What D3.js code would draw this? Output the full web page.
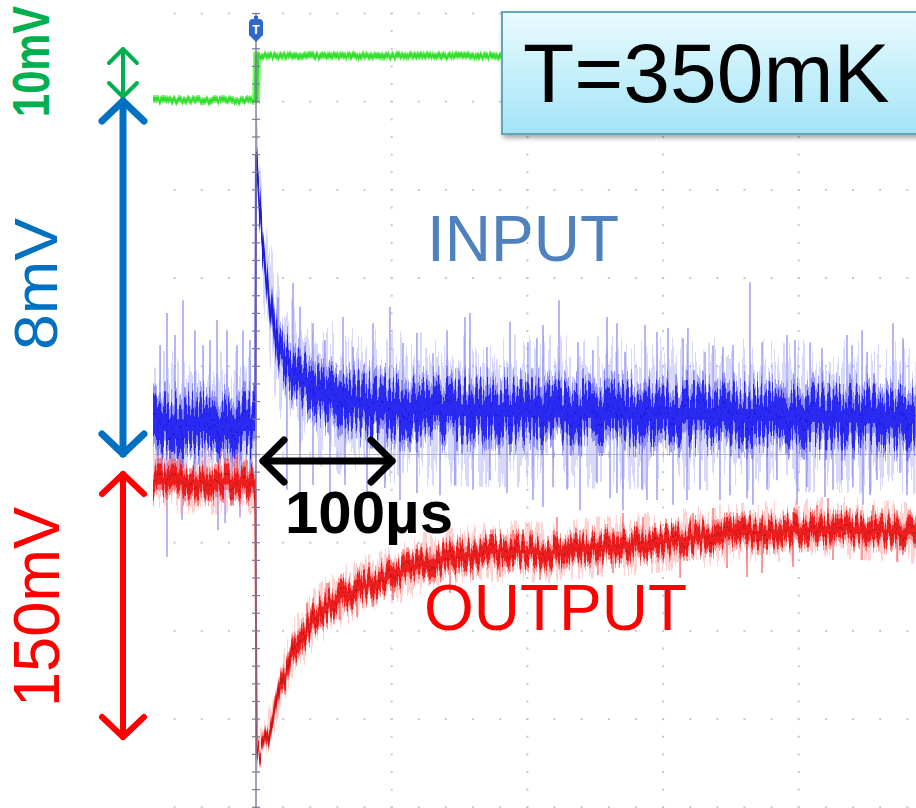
<!DOCTYPE html>
<html>
<head>
<meta charset="utf-8">
<script src="https://cdn.jsdelivr.net/npm/d3@7"></script>
<style>
  body { margin: 0; background: #fff; }
  text { font-family: "Liberation Sans", Arial, sans-serif; }
</style>
</head>
<body>
<div id="chart"></div>
<script>
// scope capture: input (2 mV/div), output (50 mV/div), trigger (20 mV/div), 100 us/div

// input channel (blue), mV, time in us
var inputT    = [-76, -0.5, 0, 1.5, 2.9, 5.2, 7.4, 10.3, 14, 17.7, 25, 32.4, 47, 62, 77, 91, 106, 143, 253, 364, 486];
var inputMean = [0, 0, 6.35, 5.56, 4.76, 3.85, 3.29, 2.72, 2.15, 1.70, 1.29, 1.02, 0.75, 0.61, 0.50, 0.43, 0.39, 0.34, 0.29, 0.23, 0.16];
var inputCore = [0.45, 0.45, 0.12, 0.18, 0.2, 0.22, 0.25, 0.28, 0.3, 0.33, 0.36, 0.4, 0.42, 0.44, 0.45, 0.45, 0.45, 0.45, 0.45, 0.45, 0.45];
var inputHaze = [1.0, 1.0, 0.3, 0.4, 0.5, 0.6, 0.7, 0.8, 0.85, 0.9, 0.95, 1.0, 1.0, 1.05, 1.05, 1.05, 1.05, 1.05, 1.05, 1.05, 1.05];

// visible spikes of the input trace
var inputUpT = [-70.7, -65.6, -59.7, -53.8, -45, -39, -33.9, -28.7, -21.4, -14, -9.6, -4.4,
                16.2, 27.3, 32.4, 42, 50.8, 64.1, 71.5, 86.2, 98.7, 108.3, 118.6, 130.4, 140.8, 154, 157.7, 170.2,
                187.2, 200.4, 207, 211.5, 223.3, 237.3, 248.3, 258.7, 266, 271.9, 286.7, 295.5, 303.6, 314.7, 318.3,
                330.9, 336.8, 344.1, 351.5, 364, 372.9, 391.3, 397.2, 408.3, 417.1, 435.5, 439.2, 446.6, 450.3, 469.4, 476.8];
var inputUpV = [1.81, 2.54, 2.04, 2.83, 2.15, 1.81, 1.93, 2.38, 2.15, 1.81, 2.15, 1.93,
                2.9, 3.22, 2.68, 2.31, 1.93, 2.45, 1.77, 2.31, 2.68, 1.86, 2.09, 1.63, 2.15, 2.45, 2.54, 1.77,
                2.34, 1.88, 1.97, 2.27, 2.83, 1.88, 1.70, 2.45, 2.31, 1.66, 2.27, 2.11, 2.20, 1.97, 2.20,
                1.66, 1.81, 1.77, 1.81, 3.24, 1.88, 2.04, 1.93, 1.88, 1.75, 2.04, 1.81, 2.15, 1.66, 2.31, 1.97];
var inputDnT = [-72.2, -65.6, -54.5, -45, -37.6, -28, -22.8, -17.7, -11.8, -4.4,
                22.8, 32.4, 42, 54.5, 65.6, 81.8, 95, 106.1, 118.6, 135.6, 146.6, 159.9, 172.4, 185,
                204.1, 211.5, 218.9, 229.2, 238.8, 251.3, 260.9, 266, 270.4, 284.4, 288.1, 295.5, 307.3, 317.6,
                327.2, 341.9, 349.3, 361.8, 366.2, 376.6, 383.9, 398.7, 406, 419.3, 425.2, 431.8, 439.9, 447.3,
                452.5, 457.6, 474.6, 479.7];
var inputDnV = [-1.47, -2.99, -2.15, -1.70, -1.59, -2.38, -2.22, -1.81, -2.09, -1.59,
                -1.47, -1.70, -1.36, -1.54, -1.36, -1.63, -1.43, -1.70, -1.54, -1.59, -1.36, -1.47, -1.25, -1.54,
                -1.70, -1.86, -1.41, -1.47, -1.93, -1.32, -1.66, -1.54, -1.93, -1.47, -1.70, -1.70, -1.81, -1.70,
                -1.47, -1.70, -1.59, -1.66, -1.81, -1.47, -1.25, -1.81, -1.41, -1.63, -1.47, -1.25, -1.41, -1.81,
                -1.59, -1.25, -1.09, -1.59];

// output channel (red), mV
var outputT    = [-76, -0.5, 0.5, 8.1, 12.5, 17.7, 22.8, 27.3, 34.6, 42, 52.3, 61.9, 74.4, 86.2, 98.7, 111.3,
                  123.1, 135.6, 148.1, 159.9, 172.4, 185, 216.7, 253.5, 290.3, 327.2, 364, 400.9, 425.2, 450.3, 486.4];
var outputMean = [0, 0, -155.9, -146.3, -131, -116.2, -106.6, -95.2, -87.9, -78.2, -70.9, -65.2, -61.2, -57.3, -53.9, -49.9,
                  -45.9, -44.2, -42.5, -41.4, -39.7, -39.1, -40.2, -36.8, -34.6, -31.2, -28.9, -27.2, -25.5, -27.2, -28.9];
var outputCore = [6, 6, 3, 3.5, 4, 4.5, 5, 5.5, 5.5, 5.5, 5.5, 5.5, 5.5, 5.5, 5.5, 5.5,
                  5.5, 5.5, 5.5, 5.5, 5.5, 5.5, 5.5, 5.5, 5.5, 5.5, 5.5, 5.5, 5.5, 5.5, 5.5];
var outputHaze = [11, 11, 5, 6, 7, 8, 9, 10, 10, 10, 10, 10, 10, 10, 10, 10,
                  10, 10, 10, 10, 10, 10, 10, 10, 10, 10, 10, 10, 10, 10, 10];

var outputUpT = [-70.7, -56, -36.1, -14, -6.6, 37.6, 52.3, 74.4, 91.4, 101, 118.6, 128.2, 150.3, 165.1, 189.4, 196.8,
                 221.8, 238.8, 270.4, 285.2, 322, 336.8, 354.5, 395.7, 413.4, 421.5, 437.7, 454.7, 472.4, 483.4];
var outputUpV = [8.5, 12.5, 8.5, 14.2, 12.5, -68.6, -57.3, -55.6, -53.9, -45.9, -40.2, -36.8, -31.2, -31.7, -27.2, -27.2,
                 -19.8, -27.2, -17.6, -19.8, -17.6, -14.7, -17.6, -17.0, -13.0, -9.1, -14.7, -13.0, -15.9, -19.8];
var outputDnT = [-65.6, -48.6, -24.3, -4.4, 25.1, 47.2, 61.9, 74.4, 86.2, 101, 143, 159.9, 179.8, 187.2, 209.3,
                 252, 263.1, 312.5, 347.1, 361.8, 372.9, 395.7, 425.2, 446.6, 472.4];
var outputDnV = [-10.2, -8.5, -10.2, -8.5, -96.9, -82.2, -78.2, -76.5, -70.9, -66.9, -62.9, -55.6, -53.9, -51.0, -55.6,
                 -52.7, -51.6, -54.4, -48.8, -53.9, -51.6, -48.2, -44.2, -44.2, -45.4];

// trigger channel (green), mV
var trigT = [-76, 0, 0.8, 486];
var trigV = [0, 0, 10, 10];

var W = 916, H = 808;
var plotLeft = 153;

var svg = d3.select("#chart").append("svg")
    .attr("width", W)
    .attr("height", H);

var defs = svg.append("defs");
defs.append("clipPath").attr("id", "plot-clip")
  .append("rect").attr("x", plotLeft).attr("y", 0).attr("width", W - plotLeft).attr("height", H);
var shadow = defs.append("filter").attr("id", "shadow")
    .attr("x", "-10%").attr("y", "-10%").attr("width", "130%").attr("height", "140%");
shadow.append("feDropShadow").attr("dx", 2).attr("dy", 3).attr("stdDeviation", 2.5)
    .attr("flood-color", "#000").attr("flood-opacity", 0.35);
var grad = defs.append("linearGradient").attr("id", "boxfill")
    .attr("x1", 0).attr("y1", 0).attr("x2", 0).attr("y2", 1);
grad.append("stop").attr("offset", "0%").attr("stop-color", "#eafbff");
grad.append("stop").attr("offset", "100%").attr("stop-color", "#a3e4f7");

// column-wise vertical jitter: gives the trace bands the ragged edge of a scope display
function jitterFilter(id, seed, fx, scale) {
    var f = defs.append("filter").attr("id", id)
        .attr("x", "-2%").attr("y", "-40%").attr("width", "104%").attr("height", "180%")
        .attr("color-interpolation-filters", "sRGB");
    f.append("feTurbulence").attr("type", "fractalNoise")
        .attr("baseFrequency", fx + " 0.003").attr("numOctaves", 2).attr("seed", seed).attr("result", "n");
    f.append("feColorMatrix").attr("in", "n").attr("type", "matrix")
        .attr("values", "0 0 0 0 0.5  0 3 0 0 -1  0 0 0 0 0  0 0 0 0 1").attr("result", "m");
    f.append("feDisplacementMap").attr("in", "SourceGraphic").attr("in2", "m")
        .attr("scale", scale).attr("xChannelSelector", "R").attr("yChannelSelector", "G");
}
jitterFilter("jb-haze", 4, 0.35, 60);
jitterFilter("jb-core", 9, 0.45, 28);
jitterFilter("jr-haze", 2, 0.35, 26);
jitterFilter("jr-core", 7, 0.45, 16);
jitterFilter("jg", 5, 0.5, 3);

// scales
var x = d3.scaleLinear().domain([-100, 500]).range([120.3, 934.5]);
var yDiv = d3.scaleLinear().domain([-5, 5]).range([895.5, 13.5]);
function chanScale(perDiv, offDiv) {
    return d3.scaleLinear()
        .domain([(-5 - offDiv) * perDiv, (5 - offDiv) * perDiv])
        .range([895.5, 13.5]);
}
var yIn = chanScale(2, 0.334);
var yOut = chanScale(50, -0.312);
var yTrig = chanScale(20, 4.02);

var plot = svg.append("g").attr("clip-path", "url(#plot-clip)");

// graticule dots
var grid = plot.append("g").attr("fill", "#c6c6d4");
var majorT = [100, 200, 300, 400];
var minorDiv = d3.range(-5, 5.01, 0.2);
var minorT = d3.range(-100, 500.1, 20);
majorT.forEach(function(t) {
    grid.selectAll(null).data(minorDiv).enter().append("rect")
        .attr("x", x(t) - 1).attr("y", function(d) { return yDiv(d) - 1; })
        .attr("width", 2).attr("height", 2);
});
d3.range(-5, 6).forEach(function(k) {
    if (k === 0) return;
    grid.selectAll(null).data(minorT).enter().append("rect")
        .attr("x", function(d) { return x(d) - 1; }).attr("y", yDiv(k) - 1)
        .attr("width", 2).attr("height", 2);
});

// horizontal center line
plot.append("line")
    .attr("x1", plotLeft).attr("x2", W).attr("y1", yDiv(0)).attr("y2", yDiv(0))
    .attr("stroke", "#b9b9c6").attr("stroke-width", 1);
plot.selectAll(".hcx").data(minorT).enter().append("line")
    .attr("x1", function(d) { return x(d); }).attr("x2", function(d) { return x(d); })
    .attr("y1", yDiv(0) - 3).attr("y2", yDiv(0) + 3)
    .attr("stroke", "#b9b9c6");

// trigger trace
var trigLine = d3.line().x(function(d, i) { return x(trigT[i]); }).y(function(d) { return yTrig(d); });
var tg = plot.append("g").attr("filter", "url(#jg)");
tg.append("path").datum(trigV)
    .attr("d", trigLine).attr("fill", "none")
    .attr("stroke", "#8af07a").attr("stroke-width", 8);
tg.append("path").datum(trigV)
    .attr("d", trigLine).attr("fill", "none")
    .attr("stroke", "#33dd33").attr("stroke-width", 4.5);

// noisy trace helper: haze band, spikes, dense core
function drawTrace(T, mean, core, haze, upT, upV, dnT, dnV, y, col, fHaze, fCore) {
    var g = plot.append("g");
    var meanAt = d3.scaleLinear().domain(T).range(mean);
    var band = function(w, k) {
        return d3.area()
            .x(function(d, i) { return x(T[i]); })
            .y0(function(d, i) { return y(d - w[i] * k); })
            .y1(function(d, i) { return y(d + w[i] * k); });
    };
    g.append("g").attr("filter", "url(#" + fHaze + ")")
      .append("path").datum(mean).attr("d", band(haze, 1))
        .attr("fill", col.haze).attr("opacity", 0.45);
    var spikes = upT.map(function(t, i) { return [t, upV[i]]; })
        .concat(dnT.map(function(t, i) { return [t, dnV[i]]; }));
    g.selectAll(".spike").data(spikes).enter().append("line")
        .attr("x1", function(d) { return x(d[0]); })
        .attr("x2", function(d) { return x(d[0]); })
        .attr("y1", function(d) { return y(meanAt(d[0])); })
        .attr("y2", function(d) { return y(d[1]); })
        .attr("stroke", col.spike).attr("stroke-width", 1.6).attr("opacity", 0.7);
    var cg = g.append("g").attr("filter", "url(#" + fCore + ")");
    cg.append("path").datum(mean).attr("d", band(core, 1.5))
        .attr("fill", col.mid).attr("opacity", 0.55);
    cg.append("path").datum(mean).attr("d", band(core, 1))
        .attr("fill", col.core).attr("opacity", 0.9);
    var line = d3.line().x(function(d, i) { return x(T[i]); }).y(function(d) { return y(d); });
    cg.append("path").datum(mean).attr("d", line)
        .attr("fill", "none").attr("stroke", col.line).attr("stroke-width", 2);
}

drawTrace(inputT, inputMean, inputCore, inputHaze, inputUpT, inputUpV, inputDnT, inputDnV, yIn,
    {haze: "#a9a9f6", spike: "#7d7df2", mid: "#5a5af0", core: "#1f1ff2", line: "#1a1ad8"}, "jb-haze", "jb-core");
drawTrace(outputT, outputMean, outputCore, outputHaze, outputUpT, outputUpV, outputDnT, outputDnV, yOut,
    {haze: "#ff9c9c", spike: "#f05050", mid: "#f24a4a", core: "#ee1414", line: "#c81414"}, "jr-haze", "jr-core");

// vertical center (trigger) line with minor ticks, over the traces
plot.append("line")
    .attr("x1", x(0)).attr("x2", x(0)).attr("y1", yDiv(5)).attr("y2", H)
    .attr("stroke", "#7c7898").attr("stroke-width", 1.4);
plot.selectAll(".vcx").data(minorDiv).enter().append("line")
    .attr("x1", x(0) - 4).attr("x2", x(0) + 4)
    .attr("y1", function(d) { return yDiv(d); }).attr("y2", function(d) { return yDiv(d); })
    .attr("stroke", "#7c7898").attr("stroke-width", 1.2);

// trigger marker
var mk = svg.append("g").attr("transform", "translate(" + x(0) + ",0)");
mk.append("rect").attr("x", -2).attr("y", 16).attr("width", 4).attr("height", 4).attr("fill", "#2f68cc");
mk.append("path")
    .attr("d", "M-7,23 Q-7,19 -3,19 L3,19 Q7,19 7,23 L7,35 L0,42 L-7,35 Z")
    .attr("fill", "#2f68cc");
mk.append("text").attr("x", 0).attr("y", 34).attr("text-anchor", "middle")
    .attr("font-size", 12).attr("font-weight", "bold").attr("fill", "#fff").text("T");

// temperature box
svg.append("rect")
    .attr("x", 502).attr("y", 12).attr("width", 440).attr("height", 122)
    .attr("fill", "url(#boxfill)").attr("stroke", "#5ea6bf").attr("stroke-width", 2)
    .attr("filter", "url(#shadow)");
svg.append("text").attr("x", 523).attr("y", 102)
    .attr("font-size", 84).attr("fill", "#000").text("T=350mK");

// double-headed arrows
function dblArrow(x1, y1, x2, y2, arm, back, sw, color) {
    var g = svg.append("g").attr("fill", "none").attr("stroke", color)
        .attr("stroke-width", sw).attr("stroke-linecap", "round").attr("stroke-linejoin", "round");
    g.append("line").attr("x1", x1).attr("y1", y1).attr("x2", x2).attr("y2", y2);
    var ang = Math.atan2(y2 - y1, x2 - x1);
    function head(px, py, dir) {
        var ux = Math.cos(ang) * dir, uy = Math.sin(ang) * dir;
        var nx = -uy, ny = ux;
        var bx = px - ux * back, by = py - uy * back;
        g.append("polyline").attr("points",
            [[bx + nx * arm, by + ny * arm], [px, py], [bx - nx * arm, by - ny * arm]].map(function(p) { return p.join(","); }).join(" "));
    }
    head(x2, y2, 1);
    head(x1, y1, -1);
}
dblArrow(123, 49, 123, 97, 14, 14, 4, "#00b050");
dblArrow(123, 101, 123, 454, 21, 20, 7, "#0070c0");
dblArrow(123, 474, 123, 737, 21, 20, 6, "#ff0000");
dblArrow(263, 461, 392, 461, 21, 21, 7, "#000");

// labels
svg.append("text").attr("transform", "translate(49,117) rotate(-90) scale(1,1.22)")
    .attr("font-size", 42).attr("font-weight", "bold").attr("fill", "#00b050")
    .attr("textLength", 111).attr("lengthAdjust", "spacingAndGlyphs").text("10mV");
svg.append("text").attr("transform", "translate(57,350) rotate(-90)")
    .attr("font-size", 62).attr("fill", "#0070c0")
    .attr("textLength", 132).attr("lengthAdjust", "spacingAndGlyphs").text("8mV");
svg.append("text").attr("transform", "translate(59,707) rotate(-90)")
    .attr("font-size", 64).attr("fill", "#ff0000")
    .attr("textLength", 200).attr("lengthAdjust", "spacingAndGlyphs").text("150mV");
svg.append("text").attr("x", 427).attr("y", 261)
    .attr("font-size", 64).attr("fill", "#4f81bd").text("INPUT");
svg.append("text").attr("x", 424).attr("y", 630)
    .attr("font-size", 64).attr("fill", "#ff0000").text("OUTPUT");
svg.append("text").attr("x", 285).attr("y", 533)
    .attr("font-size", 60).attr("font-weight", "bold").attr("fill", "#000").text("100\u00b5s");
</script>
</body>
</html>
